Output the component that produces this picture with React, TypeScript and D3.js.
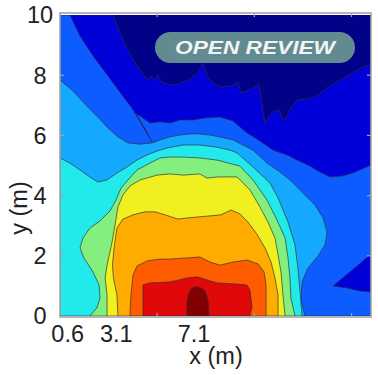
import React from "react";
import * as d3 from "d3";

// Contour band colours, from the lowest level (0) to the highest (10)
const levelColors = [
  "#020288", "#0000d8", "#0d5cff", "#14a8ff", "#22eaea", "#84ef7c",
  "#f0f020", "#ffab00", "#ff5c00", "#e00808", "#820000",
];

const yTickValues = [0, 2, 4, 6, 8, 10];
const xTickValues = [5, 10, 15];
const xLabelValues = [0.6, 3.1, 7.1];

// Super-level regions (value >= level), in metres [x, y]
const region1: [number, number][] = [
  [0, 10], [2.73, 10], [2.98, 9.57], [3.24, 9.17], [3.5, 8.84], [3.76, 8.5], [4.12, 8.17], [4.48, 7.84],
  [4.68, 7.97], [4.84, 7.81], [5.04, 8.01], [5.2, 7.77], [5.5, 7.71], [5.92, 7.67], [6.33, 7.77],
  [6.69, 7.87], [7.05, 8.04], [7.36, 8.41], [7.56, 7.97], [7.92, 7.71], [8.28, 7.61], [8.8, 7.64],
  [9.16, 7.77], [9.31, 7.41], [9.62, 7.48], [9.88, 7.54], [10.19, 7.71], [10.34, 7.34], [10.44, 6.84],
  [10.55, 6.38], [10.75, 6.64], [11.01, 6.81], [11.27, 6.84], [11.47, 6.54], [11.63, 6.54],
  [11.78, 6.81], [11.94, 6.98], [12.24, 7.18], [12.65, 7.21], [13.12, 7.28], [13.48, 7.44],
  [13.79, 7.61], [14.25, 7.77], [14.66, 7.94], [15.07, 8.07], [15.48, 8.24], [16, 8.37], [16, 0], [0, 0],
];
const region2: [number, number][] = [
  [0, 10], [0.51, 10], [1.03, 9.3], [1.7, 8.64], [2.47, 7.97], [3.19, 7.34], [3.7, 6.91], [3.86, 6.74],
  [4.37, 6.18], [4.73, 5.78], [4.41, 6.18], [3.9, 6.73], [4.27, 6.58], [4.63, 6.41], [5.14, 6.45],
  [5.66, 6.41], [6.17, 6.51], [6.84, 6.51], [7.46, 6.58], [8.23, 6.61], [8.9, 6.48], [9.62, 6.08],
  [10.29, 5.81], [10.96, 5.51], [11.68, 5.35], [12.19, 5.18], [12.86, 4.98], [13.37, 4.78],
  [13.89, 4.62], [14.51, 4.65], [15.07, 4.75], [15.54, 4.88], [16, 5.02], [16, 0], [0, 0],
];
const pocket1: [number, number][] = [
  [16, 2.06], [15.28, 1.66], [14.66, 1.33], [14.05, 1.0], [14.77, 0.93], [15.43, 0.83], [16, 0.8],
];
const region3: [number, number][] = [
  [0, 7.84], [0.62, 7.51], [1.29, 7.04], [1.9, 6.64], [2.47, 6.25], [2.98, 5.95], [3.5, 5.75],
  [4.12, 5.71], [4.73, 5.75], [5.14, 5.85], [5.66, 5.95], [6.17, 6.01], [6.69, 6.05], [7.2, 6.05],
  [7.72, 6.01], [8.23, 5.95], [8.9, 5.85], [9.93, 5.51], [10.65, 5.08], [11.32, 4.78], [11.83, 4.52],
  [12.19, 4.29], [12.6, 4.02], [13.12, 3.69], [13.53, 3.26], [13.74, 2.79], [13.63, 2.36],
  [13.27, 1.99], [12.75, 1.59], [12.45, 1.13], [12.4, 0.53], [12.6, 0], [0, 0],
];
const region4: [number, number][] = [
  [0, 5.25], [0.51, 5.08], [1.03, 4.85], [1.54, 4.62], [1.95, 4.45], [2.42, 4.52], [2.93, 4.75],
  [3.45, 4.95], [3.96, 5.18], [4.48, 5.35], [4.99, 5.48], [5.5, 5.58], [6.33, 5.68], [7.2, 5.68],
  [8.08, 5.61], [8.74, 5.51], [9.11, 5.42], [9.93, 4.95], [10.8, 4.42], [11.22, 3.92], [11.73, 3.12],
  [12.09, 2.36], [12.24, 1.59], [12.35, 0.8], [12.45, 0], [0, 0],
];
const region5: [number, number][] = [
  [1.54, 0], [1.9, 0.27], [2.06, 0.6], [2.01, 1.03], [1.7, 1.46], [1.23, 1.93], [1.03, 2.26],
  [1.18, 2.59], [1.54, 2.92], [2.06, 3.16], [2.57, 3.49], [2.88, 3.85], [3.14, 4.25], [3.5, 4.52],
  [3.96, 4.85], [4.63, 5.08], [5.14, 5.25], [5.66, 5.28], [6.33, 5.28], [7.2, 5.25], [8.08, 5.18],
  [9.26, 4.98], [9.93, 4.52], [10.65, 3.85], [11.16, 3.19], [11.58, 2.59], [11.73, 1.93],
  [11.83, 1.26], [11.88, 0.6], [12.09, 0],
];
const region6: [number, number][] = [
  [2.42, 0], [2.42, 0.7], [2.32, 1.26], [2.42, 1.69], [2.57, 2.13], [2.68, 2.46], [2.83, 3.02],
  [2.98, 3.62], [3.24, 4.02], [3.6, 4.32], [4.12, 4.52], [4.99, 4.68], [5.66, 4.72], [6.33, 4.68],
  [7.2, 4.72], [7.56, 4.58], [8.08, 4.62], [9.11, 4.62], [9.77, 4.19], [10.29, 3.62], [10.7, 3.12],
  [11.06, 2.59], [11.22, 2.03], [11.37, 1.46], [11.47, 0.7], [11.58, 0],
];
const region7: [number, number][] = [
  [2.98, 0], [2.93, 0.7], [2.75, 1.26], [2.7, 1.69], [2.78, 2.26], [2.93, 2.92], [3.24, 3.22],
  [3.76, 3.36], [4.37, 3.46], [4.89, 3.46], [5.4, 3.36], [6.07, 3.22], [6.59, 3.26], [7.61, 3.32],
  [8.28, 3.36], [8.8, 3.52], [9.26, 3.39], [9.67, 3.12], [10.13, 2.72], [10.55, 2.26], [10.86, 1.79],
  [11.06, 1.26], [11.22, 0.7], [11.22, 0],
];
const region8: [number, number][] = [
  [3.6, 0], [3.65, 0.7], [3.76, 1.36], [3.96, 1.66], [4.48, 1.83], [5.14, 1.89], [5.66, 1.89],
  [6.53, 1.93], [7.2, 1.96], [7.72, 1.79], [8.23, 1.69], [8.9, 1.79], [9.62, 1.86], [10.19, 1.73],
  [10.5, 1.46], [10.6, 1.03], [10.6, 0],
];
const region9: [number, number][] = [
  [4.27, 0], [4.27, 1.03], [4.63, 1.1], [5.66, 1.13], [6.53, 1.26], [7.05, 1.3], [7.56, 1.2],
  [8.08, 1.1], [9.11, 1.06], [9.62, 1.03], [9.77, 0.86], [9.88, 0.3], [9.77, 0],
];
const region10: [number, number][] = [
  [6.53, 0], [6.53, 0.45], [6.6, 0.72], [6.75, 0.9], [6.95, 0.97], [7.2, 0.95], [7.42, 0.86],
  [7.56, 0.68], [7.63, 0.45], [7.67, 0],
];

const bands: { level: number; pts: [number, number][] }[] = [
  { level: 1, pts: region1 },
  { level: 2, pts: region2 },
  { level: 1, pts: pocket1 },
  { level: 3, pts: region3 },
  { level: 4, pts: region4 },
  { level: 5, pts: region5 },
  { level: 6, pts: region6 },
  { level: 7, pts: region7 },
  { level: 8, pts: region8 },
  { level: 9, pts: region9 },
  { level: 10, pts: region10 },
];

const W = 378;
const H = 375;
const L = 60, R = 371, T = 15, B = 316;
const FONT = "Liberation Sans, Arial, Helvetica, sans-serif";
const TEXT = "#222222";
const AXIS = "#a3a3a3";
const FS = 23.5;

export default function App() {
  const x = d3.scaleLinear().domain([0, 16]).range([L, R]);
  const y = d3.scaleLinear().domain([0, 10]).range([B, T]);
  const line = d3
    .line<[number, number]>()
    .x((d) => x(d[0]))
    .y((d) => y(d[1]))
    .curve(d3.curveLinearClosed);

  return (
    <svg
      width={W}
      height={H}
      viewBox={`0 0 ${W} ${H}`}
      style={{ position: "absolute", left: 0, top: 0, background: "#fff" }}
    >
      <defs>
        <clipPath id="plotClip">
          <rect x={L} y={T} width={R - L} height={B - T} />
        </clipPath>
      </defs>
      <g clipPath="url(#plotClip)">
        <rect x={L} y={T} width={R - L} height={B - T} fill={levelColors[0]} />
        {bands.map((b, i) => (
          <path
            key={i}
            d={line(b.pts) || ""}
            fill={levelColors[b.level]}
            stroke="#2e2e3a"
            strokeOpacity={0.75}
            strokeWidth={0.9}
            strokeLinejoin="round"
          />
        ))}
      </g>

      {/* frame */}
      <rect x={L} y={T - 2} width={R - L} height={B - T + 3} fill="none" stroke={AXIS} strokeWidth={1.6} />

      {/* ticks */}
      {yTickValues.slice(1, -1).map((v) => (
        <g key={"yt" + v}>
          <line x1={L} x2={L + 4} y1={y(v)} y2={y(v)} stroke={AXIS} strokeWidth={1.2} />
          <line x1={R - 4} x2={R} y1={y(v)} y2={y(v)} stroke={AXIS} strokeWidth={1.2} />
        </g>
      ))}
      {xTickValues.map((v) => (
        <g key={"xt" + v}>
          <line x1={x(v)} x2={x(v)} y1={B + 1} y2={B - 3} stroke={AXIS} strokeWidth={1.2} />
          <line x1={x(v)} x2={x(v)} y1={T - 2} y2={T + 2} stroke={AXIS} strokeWidth={1.2} />
        </g>
      ))}

      {/* y tick labels */}
      {yTickValues.map((v) => (
        <text
          key={"yl" + v}
          x={40}
          y={y(v)}
          dy="0.36em"
          textAnchor="middle"
          fontFamily={FONT}
          fontSize={FS}
          fill={TEXT}
        >
          {v}
        </text>
      ))}

      {/* x tick labels */}
      {xLabelValues.map((v) => (
        <text
          key={"xl" + v}
          x={x(v) - 4}
          y={342}
          textAnchor="middle"
          fontFamily={FONT}
          fontSize={FS}
          fill={TEXT}
        >
          {v.toFixed(1)}
        </text>
      ))}

      {/* axis titles */}
      <text x={216} y={364} textAnchor="middle" fontFamily={FONT} fontSize={FS} fill={TEXT}>
        x (m)
      </text>
      <text
        transform={`translate(27, 208) rotate(-90)`}
        textAnchor="middle"
        fontFamily={FONT}
        fontSize={FS}
        fill={TEXT}
      >
        y (m)
      </text>

      {/* badge */}
      <rect x={155} y={32} width={200} height={31} rx={15.5} fill="#628a91" />
      <text
        x={255}
        y={54}
        textAnchor="middle"
        fontFamily={FONT}
        fontWeight="bold"
        fontStyle="italic"
        fontSize={18}
        fill="#f4f4f4"
        textLength={160}
        lengthAdjust="spacingAndGlyphs"
      >
        OPEN REVIEW
      </text>
    </svg>
  );
}
